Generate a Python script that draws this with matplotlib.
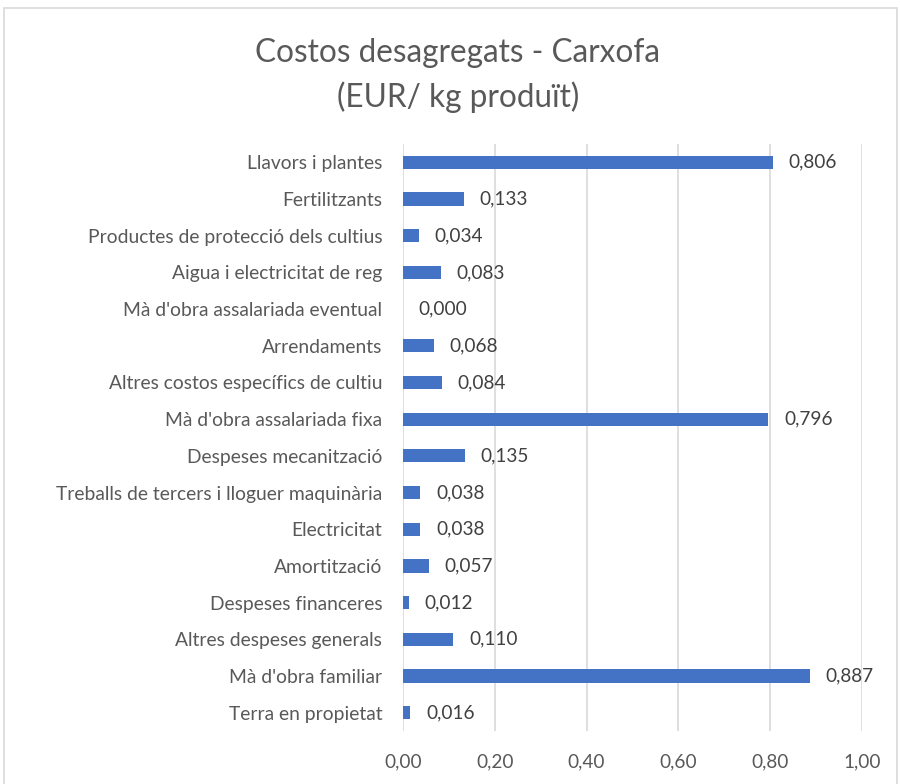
import matplotlib.pyplot as plt
from matplotlib.patches import Rectangle

categories = ['Llavors i plantes', 'Fertilitzants', 'Productes de protecció dels cultius',
              'Aigua i electricitat de reg', "Mà d'obra assalariada eventual", 'Arrendaments',
              'Altres costos específics de cultiu', "Mà d'obra assalariada fixa",
              'Despeses mecanització', 'Treballs de tercers i lloguer maquinària',
              'Electricitat', 'Amortització', 'Despeses financeres',
              'Altres despeses generals', "Mà d'obra familiar", 'Terra en propietat']
values = [0.806, 0.133, 0.034, 0.083, 0.000, 0.068, 0.084, 0.796,
          0.135, 0.038, 0.038, 0.057, 0.012, 0.110, 0.887, 0.016]
xticks = [0.0, 0.2, 0.4, 0.6, 0.8, 1.0]

plt.rcParams['font.family'] = ['Lato', 'DejaVu Sans']
txt = '#595959'

fig = plt.figure(figsize=(9, 7.84), dpi=100)
fig.patches.append(Rectangle((4/900, -0.01), 893/900, 1 - 8/784 + 0.01,
                             transform=fig.transFigure, fill=False,
                             edgecolor='#D9D9D9', linewidth=1.2))
ax = fig.add_axes([403/900, 1 - 731/784, 459/900, (731 - 144)/784])

y = list(range(len(categories)))
ax.barh(y, values, height=0.36, color='#4472C4', zorder=3)
for yi, v in zip(y, values):
    ax.text(v + 0.034, yi, f'{v:.3f}'.replace('.', ','), va='center', ha='left',
            fontsize=13.7, color='#404040')

ax.set_ylim(len(categories) - 0.5, -0.5)
ax.set_xlim(0, 1.0)
ax.set_yticks(y)
ax.set_yticklabels(categories, fontsize=13.9, color=txt)
ax.set_xticks(xticks)
ax.set_xticklabels([f'{t:.2f}'.replace('.', ',') for t in xticks], fontsize=13.7, color=txt)
ax.tick_params(length=0, pad=15)
ax.tick_params(axis='x', pad=16)
ax.grid(axis='x', color='#D9D9D9', linewidth=1.2, zorder=0)
for s in ax.spines.values():
    s.set_visible(False)

fig.text(458/900, 1 - 53/784, 'Costos desagregats - Carxofa', ha='center', va='center',
         fontsize=22.7, color=txt)
fig.text(458/900, 1 - 97/784, '(EUR/ kg produït)', ha='center', va='center',
         fontsize=22.7, color=txt)

fig.savefig('out.png', dpi=100)
